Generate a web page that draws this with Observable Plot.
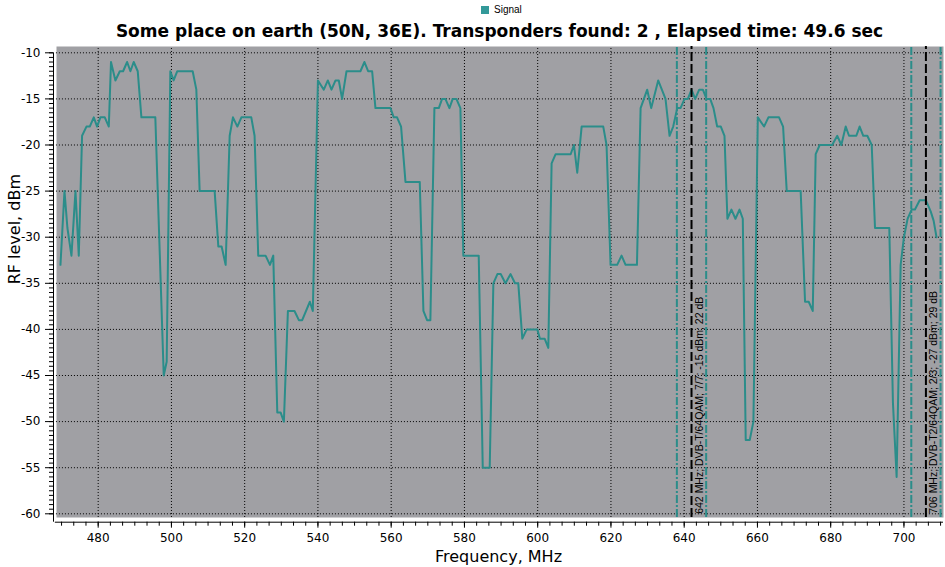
<!DOCTYPE html>
<html>
<head>
<meta charset="utf-8">
<script src="https://cdn.jsdelivr.net/npm/d3@7"></script>
<script src="https://cdn.jsdelivr.net/npm/@observablehq/plot@0.6"></script>
<style>
  html, body { margin: 0; padding: 0; background: #ffffff; }
  #wrap { width: 945px; height: 567px; position: relative; overflow: hidden; }
  #head { height: 44px; position: relative; }
  #legend { position: absolute; left: 481px; top: 4px; font: 10px "Liberation Sans", sans-serif; color: #000; display: flex; align-items: center; }
  #legend .sw { width: 8px; height: 8px; background: #339999; margin-right: 5px; }
  #title { position: absolute; left: 56px; width: 887px; top: 21px; text-align: center; font: bold 17px "DejaVu Sans", sans-serif; color: #000; white-space: nowrap; }
</style>
</head>
<body>
<div id="wrap">
  <div id="head">
    <div id="legend"><div class="sw"></div><span>Signal</span></div>
    <div id="title">Some place on earth (50N, 36E). Transponders found: 2 , Elapsed time: 49.6 sec</div>
  </div>
  <div id="chart"></div>
</div>
<script>
const freq = [469.7,470.8,471.6,472.7,473.8,474.7,475.6,476.8,477.7,478.8,479.7,480.6,481.8,482.9,483.5,484.7,485.9,486.8,487.9,488.8,489.7,490.8,491.8,495.6,497.9,498.7,499.7,500.6,501.6,505.8,506.8,507.7,511.8,512.8,513.7,514.8,515.9,516.8,518,519.1,521.8,522.7,523.7,525.7,526.9,527.8,528.9,529.8,530.7,531.8,533.6,534.8,535.7,537.8,538.6,540,541.6,542.7,543.7,544.8,545.7,546.6,547.8,551.6,552.7,553.7,554.8,555.7,559.8,560.7,561.6,562.7,563.9,567.8,568.8,569.8,570.7,571.8,573,573.9,574.8,575.9,576.8,577.8,578.9,579.7,583.9,585,586.9,587.9,589,589.9,591.2,592.6,593.8,594.7,595.8,597,599.9,600.6,601.9,602.9,603.8,604.9,609,609.9,610.8,612,617.9,618.8,619.9,621.7,622.9,624,627.1,628.1,629.9,631,632.9,634.9,636,637,638.1,639,640.1,641,642,643,644.1,645.1,646.1,647.1,648,649,650,651,651.8,652.9,654,655.1,656,656.8,657.9,658.9,660.1,661.8,663,665.9,667,668,671.8,673,674,675.1,675.9,677,680.4,681.8,682.9,684.1,685,687,687.9,688.9,690,691.2,692.1,696,697,698,699.1,700,701,702.1,703,704.3,706,707.3,708.1,708.9];
const level = [-33,-25,-29,-32,-25,-32,-19,-18,-18,-17,-18,-17,-17,-18,-11,-13,-12,-12,-11,-12,-11,-12,-17,-17,-45,-43.5,-12,-13,-12,-12,-14,-25,-25,-31,-31,-33,-19,-17,-18,-17,-17,-19,-32,-32,-33,-32,-49,-49,-50,-38,-38,-39,-39,-37,-38,-13,-14,-13,-14,-13,-13,-15,-12,-12,-11,-12,-12,-16,-16,-17,-17,-18,-24,-24,-38,-39,-39,-16,-16,-15,-15,-16,-15,-15,-16,-32,-32,-55,-55,-35,-34,-34,-35,-34,-35,-35,-41,-40,-40,-41,-41,-42,-22,-21,-21,-20,-23,-18,-18,-20,-33,-33,-32,-33,-33,-16,-14,-16,-13,-15,-19,-18,-16,-16,-15,-15,-14,-15,-14,-14,-15,-15,-16,-18,-18,-19,-28,-27,-28,-27,-28,-52,-52,-50,-17,-18,-17,-17,-18,-25,-25,-37,-37,-38,-21,-20,-20,-19,-20,-18,-19,-19,-18,-19,-19,-20,-29,-29,-48,-56,-33,-30,-28,-27,-27,-26,-26,-27.2,-28.2,-30];

const xTicks = [480, 500, 520, 540, 560, 580, 600, 620, 640, 660, 680, 700];
const yTicks = [-10, -15, -20, -25, -30, -35, -40, -45, -50, -55, -60];

const transponderFreq = [642, 706];
const transponderLabel = [
  "642 MHz; DVB-T/64QAM; 7/7; -15 dBm; 22 dB",
  "706 MHz; DVB-T2/64QAM; 2/3; -27 dBm; 29 dB"
];
const channelEdges = [638, 646, 702, 710];

const data = freq.map((f, i) => ({f, v: level[i]}));
const transponders = transponderFreq.map((f, i) => ({f, label: transponderLabel[i]}));

const xDomain = [467.8, 710.8];
const yDomain = [-60.91, -9.317];
const plotTop = -9.317, plotBottom = -60.4;

const xMinor = d3.range(470, 711, 10 / 3).map(d => Math.round(d * 1000) / 1000);
const yMinor = d3.range(-60, -9.9, 0.5);

const teal = "#2b8d8a";
const FONT = "DejaVu Sans, sans-serif";

const chart = Plot.plot({
  width: 945,
  height: 523,
  marginTop: 2,
  marginBottom: 45.3,
  marginLeft: 53,
  marginRight: 2,
  style: {fontFamily: FONT, fontSize: "11px", color: "#000", background: "#fff"},
  x: {domain: xDomain, axis: null},
  y: {domain: yDomain, axis: null},
  marks: [
    Plot.frame({fill: "#a0a0a4", stroke: null, insetLeft: 3, insetBottom: 4.7}),
    // grid
    Plot.ruleX(xTicks, {y1: plotBottom, y2: plotTop, stroke: "#000", strokeWidth: 1, strokeDasharray: "1,2"}),
    Plot.ruleY(yTicks, {x1: 468.6, x2: xDomain[1], stroke: "#000", strokeWidth: 1, strokeDasharray: "1,2"}),
    // axes lines
    Plot.ruleX([xDomain[0]], {y1: yDomain[0], y2: -10, stroke: "#000", strokeWidth: 1}),
    Plot.ruleY([yDomain[0]], {x1: xDomain[0] + 0.5, x2: xDomain[1], stroke: "#000", strokeWidth: 1}),
    // y axis ticks
    Plot.axisY({ticks: yMinor, tickSize: 4, text: null, stroke: "#000", label: null}),
    Plot.axisY({ticks: yTicks, tickSize: 8, tickPadding: 5, tickFormat: d => String(d), fontSize: 12, fontFamily: FONT, label: null}),
    // x axis ticks
    Plot.axisX({ticks: xMinor, tickSize: 4, text: null, anchor: "bottom", stroke: "#000", label: null}),
    Plot.axisX({ticks: xTicks, tickSize: 6, tickPadding: 5, anchor: "bottom", tickFormat: d => String(d), fontSize: 12, fontFamily: FONT, label: null}),
    // signal
    Plot.line(data, {x: "f", y: "v", stroke: teal, strokeWidth: 2}),
    // channel edges
    Plot.ruleX(channelEdges, {y1: plotBottom, y2: plotTop, stroke: teal, strokeWidth: 2, strokeDasharray: "8,2,2,2"}),
    // transponder centers
    Plot.ruleX(transponders, {x: "f", y1: plotBottom, y2: plotTop, stroke: "#000", strokeWidth: 2, strokeDasharray: "9,3"}),
    Plot.text(transponders, {x: "f", y: -60, text: "label", rotate: -90, textAnchor: "start", lineAnchor: "top", dx: 4, fill: "#000", fontSize: 10.5, fontFamily: "Liberation Sans, sans-serif"}),
    // axis labels
    Plot.text(["Frequency, MHz"], {frameAnchor: "bottom", dy: 40, text: d => d, fontSize: 16, fontFamily: FONT, fill: "#000"}),
    Plot.text(["RF level, dBm"], {frameAnchor: "left", dx: -39, rotate: -90, text: d => d, fontSize: 16, fontFamily: FONT, fill: "#000"})
  ]
});
document.getElementById("chart").appendChild(chart);
</script>
</body>
</html>
